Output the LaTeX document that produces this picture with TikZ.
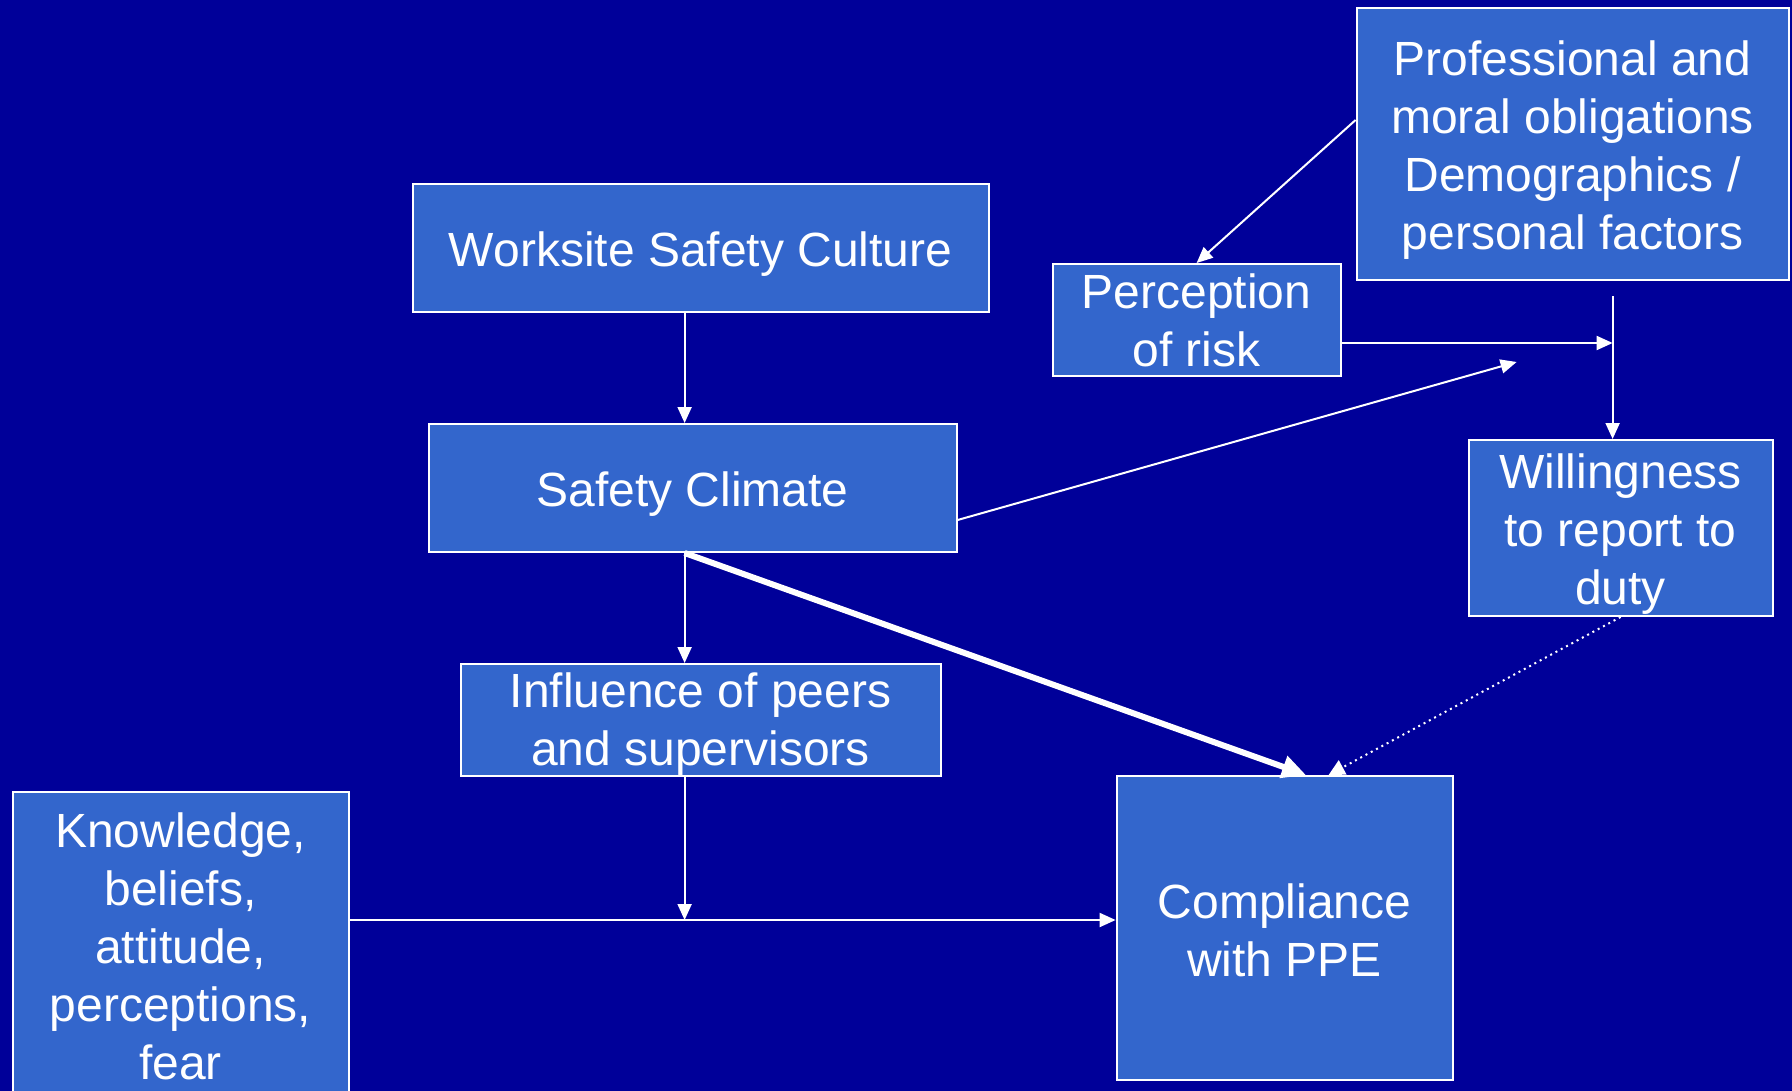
\documentclass[tikz,border=0pt]{standalone}
\usepackage{fontspec}
\setmainfont{Liberation Sans}
\usetikzlibrary{arrows.meta}
\definecolor{slidebg}{RGB}{0,0,153}
\definecolor{boxfill}{RGB}{51,102,204}
\newcommand{\droptext}[1][23.5pt]{\rule{0pt}{#1}}
\tikzstyle{factor} = [rectangle, draw=white, line width=1pt, fill=boxfill, text=white, align=center, inner sep=0pt, font=\fontsize{24}{29}\selectfont]
\tikzstyle{arrow} = [draw=white, line width=1pt, -{Triangle[length=8pt,width=7pt]}]
\tikzstyle{arrow_bold} = [draw=white, line width=3pt, -{Triangle[length=12pt,width=11pt]}]
\tikzstyle{arrow_dot} = [draw=white, line width=1pt, dash pattern=on 1pt off 2pt, -{Triangle[length=8pt,width=8pt]}]
\begin{document}
\begin{tikzpicture}[x=0.5pt, y=-0.5pt]
		\fill [slidebg] (0,0) rectangle (1792,1091);
		\useasboundingbox (0,0) rectangle (1792,1091);

		\node (culture) [factor, minimum width=288pt, minimum height=64pt] at (700.6,248) {\droptext Worksite Safety Culture};
		\node (climate) [factor, minimum width=264pt, minimum height=64pt] at (692.6,488) {\droptext Safety Climate};
		\node (peers) [factor, minimum width=240pt, minimum height=56pt] at (700.6,720) {\droptext[21.5pt]Influence of peers\\and supervisors};
		\node (knowledge) [factor, minimum width=168pt, minimum height=154pt] at (180.6,946) {Knowledge,\\beliefs,\\attitude,\\perceptions,\\fear};
		\node (compliance) [factor, minimum width=168pt, minimum height=152pt] at (1284.6,928) {\droptext[20pt]Compliance\\with PPE};
		\node (risk) [factor, minimum width=144pt, minimum height=56pt] at (1196.6,320) {Perception\\of risk};
		\node (obligations) [factor, minimum width=216pt, minimum height=136pt] at (1572.6,144) {\droptext Professional and\\moral obligations\\Demographics /\\personal factors};
		\node (willing) [factor, minimum width=152pt, minimum height=88pt] at (1620.6,528) {\droptext Willingness\\to report to\\duty};

		\coordinate (spine) at (684.6,920);
		\coordinate (hub) at (1612.6,343);
		\coordinate (hubtop) at (1612.6,296);
		\coordinate (loose) at (1516.6,362);

		\draw [arrow] (culture.south -| spine) -- (climate.north -| spine);
		\draw [arrow] (climate.south -| spine) -- (peers.north -| spine);
		\draw [arrow] (peers.south -| spine) -- (spine);
		\draw [arrow] (knowledge.east |- spine) -- (compliance.west |- spine);
		\draw [arrow] ([yshift=12pt]obligations.west) -- (risk.north);
		\draw [arrow] (risk.east |- hub) -- (hub);
		\draw [arrow] (hubtop) -- (willing.north -| hub);
		\draw [arrow] ([yshift=-16pt]climate.east) -- (loose);
		\draw [arrow_bold] (climate.south -| spine) -- ([xshift=10.7pt]compliance.north);
		\draw [arrow_dot] (willing.south) -- ([xshift=22pt]compliance.north);
\end{tikzpicture}
\end{document}
